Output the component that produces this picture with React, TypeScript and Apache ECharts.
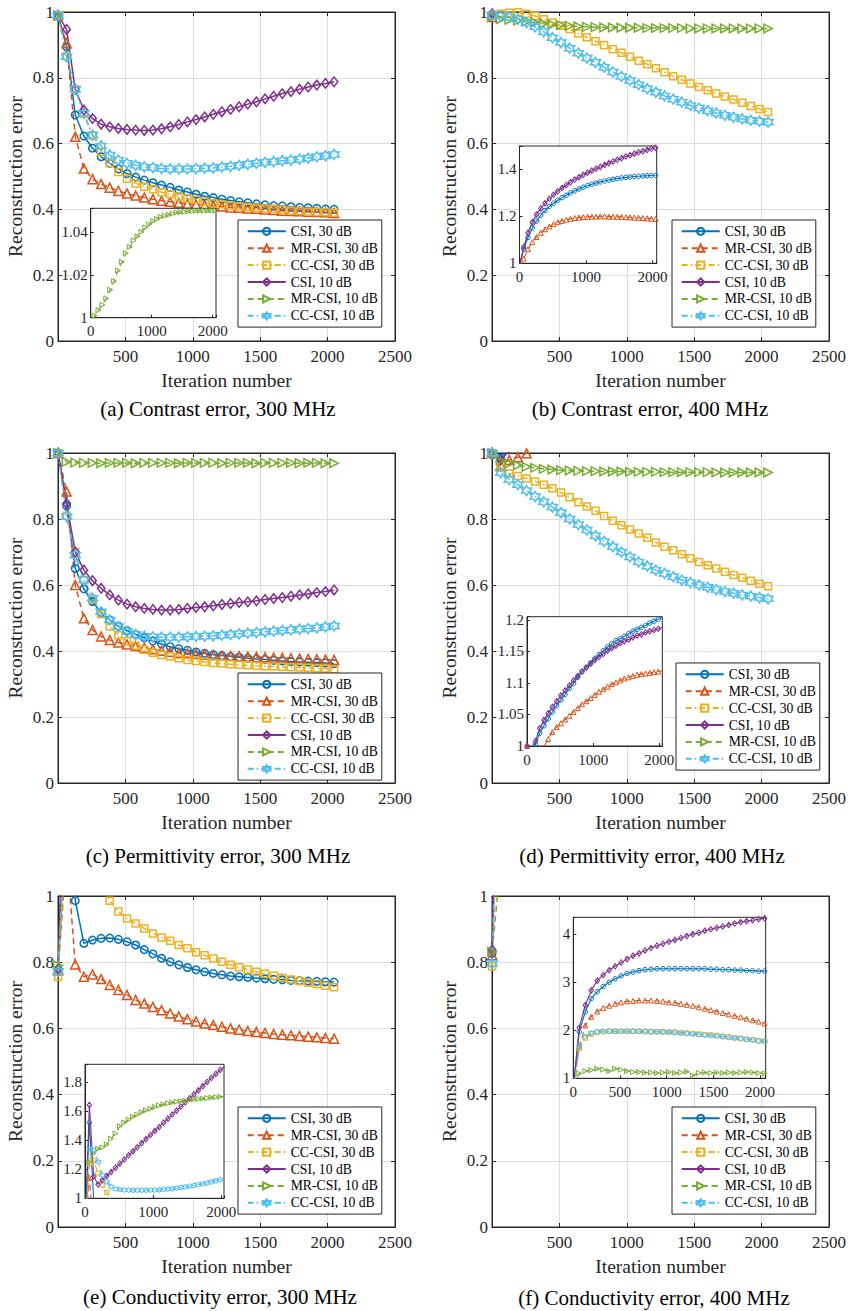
import React, { useEffect, useRef } from "react";
import * as echarts from "echarts";

// ---------------- data ----------------
const ITER = [1, 64, 128, 192, 256, 320, 384, 448, 512, 576, 640, 704, 768, 832, 896, 960, 1024, 1088, 1152, 1216, 1280, 1344, 1408, 1472, 1536, 1600, 1664, 1728, 1792, 1856, 1920, 1984, 2048];

const SERIES_NAMES = ["CSI, 30 dB", "MR-CSI, 30 dB", "CC-CSI, 30 dB", "CSI, 10 dB", "MR-CSI, 10 dB", "CC-CSI, 10 dB"];

const X_TICKS = [0, 500, 1000, 1500, 2000, 2500];
const Y_TICKS = [0, 0.2, 0.4, 0.6, 0.8, 1];

// (a) Contrast error, 300 MHz
const A_CSI30 = [0.99, 0.894, 0.687, 0.623, 0.586, 0.56, 0.54, 0.523, 0.509, 0.498, 0.489, 0.481, 0.474, 0.467, 0.459, 0.453, 0.446, 0.44, 0.436, 0.431, 0.427, 0.423, 0.42, 0.417, 0.414, 0.411, 0.41, 0.408, 0.406, 0.405, 0.403, 0.401, 0.4];
const A_MR30 = [0.99, 0.905, 0.621, 0.524, 0.492, 0.477, 0.466, 0.456, 0.448, 0.442, 0.436, 0.431, 0.426, 0.423, 0.42, 0.417, 0.415, 0.413, 0.411, 0.409, 0.406, 0.405, 0.403, 0.402, 0.4, 0.398, 0.396, 0.395, 0.394, 0.393, 0.392, 0.391, 0.389];
const A_CC30 = [0.99, 0.866, 0.765, 0.69, 0.625, 0.575, 0.54, 0.514, 0.493, 0.479, 0.469, 0.461, 0.452, 0.446, 0.439, 0.433, 0.429, 0.424, 0.419, 0.416, 0.412, 0.409, 0.407, 0.405, 0.403, 0.401, 0.399, 0.397, 0.395, 0.393, 0.392, 0.391, 0.39];
const A_CSI10 = [0.99, 0.947, 0.765, 0.702, 0.676, 0.659, 0.651, 0.646, 0.643, 0.641, 0.64, 0.641, 0.645, 0.651, 0.658, 0.666, 0.673, 0.681, 0.689, 0.697, 0.704, 0.712, 0.72, 0.727, 0.736, 0.744, 0.752, 0.758, 0.765, 0.772, 0.778, 0.783, 0.788];
const A_MR10 = [0.99, 1.001, 1.0035, 1.006, 1.009, 1.013, 1.017, 1.022, 1.026, 1.03, 1.033, 1.036, 1.038, 1.04, 1.042, 1.0435, 1.045, 1.046, 1.047, 1.0475, 1.048, 1.0485, 1.049, 1.0492, 1.0494, 1.0496, 1.0497, 1.0498, 1.0498, 1.0499, 1.0499, 1.0499, 1.0499];
const A_CC10 = [0.99, 0.864, 0.765, 0.692, 0.626, 0.593, 0.565, 0.55, 0.54, 0.534, 0.529, 0.527, 0.524, 0.523, 0.523, 0.523, 0.524, 0.525, 0.526, 0.529, 0.531, 0.534, 0.537, 0.54, 0.543, 0.545, 0.548, 0.55, 0.553, 0.556, 0.56, 0.563, 0.567];

// (b) Contrast error, 400 MHz
const B_CSI30 = [0.99, 1.06, 1.11, 1.15, 1.18, 1.205, 1.225, 1.242, 1.256, 1.269, 1.28, 1.29, 1.3, 1.309, 1.317, 1.324, 1.331, 1.337, 1.342, 1.347, 1.351, 1.355, 1.358, 1.361, 1.364, 1.366, 1.368, 1.37, 1.371, 1.372, 1.373, 1.374, 1.375];
const B_MR30 = [0.985, 1.02, 1.06, 1.09, 1.112, 1.13, 1.145, 1.157, 1.167, 1.175, 1.181, 1.186, 1.19, 1.193, 1.195, 1.197, 1.198, 1.199, 1.199, 1.2, 1.2, 1.199, 1.199, 1.198, 1.198, 1.197, 1.196, 1.195, 1.194, 1.193, 1.192, 1.19, 1.189];
const B_CC30 = [0.99, 0.995, 0.998, 0.999, 0.995, 0.988, 0.978, 0.968, 0.958, 0.948, 0.935, 0.923, 0.911, 0.899, 0.887, 0.876, 0.864, 0.852, 0.841, 0.829, 0.817, 0.805, 0.794, 0.783, 0.772, 0.762, 0.752, 0.743, 0.734, 0.724, 0.714, 0.705, 0.696];
const B_CSI10 = [0.995, 1.07, 1.13, 1.175, 1.208, 1.234, 1.256, 1.275, 1.292, 1.307, 1.321, 1.334, 1.346, 1.357, 1.367, 1.377, 1.386, 1.395, 1.403, 1.411, 1.419, 1.427, 1.434, 1.441, 1.448, 1.455, 1.461, 1.467, 1.473, 1.478, 1.483, 1.488, 1.492];
const B_MR10 = [0.985, 0.978, 0.976, 0.974, 0.971, 0.968, 0.965, 0.962, 0.96, 0.958, 0.956, 0.955, 0.954, 0.953, 0.953, 0.952, 0.952, 0.952, 0.951, 0.951, 0.951, 0.951, 0.951, 0.95, 0.95, 0.95, 0.95, 0.95, 0.95, 0.95, 0.95, 0.95, 0.95];
const B_CC10 = [0.99, 0.988, 0.985, 0.978, 0.968, 0.955, 0.94, 0.922, 0.907, 0.89, 0.875, 0.86, 0.847, 0.832, 0.818, 0.804, 0.792, 0.779, 0.767, 0.756, 0.745, 0.735, 0.726, 0.716, 0.708, 0.7, 0.693, 0.686, 0.68, 0.675, 0.671, 0.668, 0.665];

// (c) Permittivity error, 300 MHz
const C_CSI30 = [1.0, 0.84, 0.65, 0.588, 0.55, 0.516, 0.494, 0.475, 0.462, 0.45, 0.44, 0.43, 0.421, 0.413, 0.407, 0.402, 0.397, 0.393, 0.389, 0.386, 0.383, 0.381, 0.378, 0.376, 0.374, 0.372, 0.37, 0.368, 0.367, 0.366, 0.365, 0.364, 0.362];
const C_MR30 = [1.0, 0.883, 0.6, 0.499, 0.464, 0.444, 0.433, 0.426, 0.42, 0.415, 0.41, 0.405, 0.401, 0.398, 0.395, 0.393, 0.391, 0.389, 0.387, 0.386, 0.385, 0.384, 0.383, 0.382, 0.381, 0.38, 0.379, 0.378, 0.377, 0.376, 0.375, 0.374, 0.373];
const C_CC30 = [1.0, 0.81, 0.7, 0.615, 0.556, 0.512, 0.474, 0.448, 0.43, 0.416, 0.404, 0.395, 0.388, 0.383, 0.378, 0.373, 0.37, 0.367, 0.364, 0.362, 0.36, 0.358, 0.357, 0.355, 0.354, 0.353, 0.352, 0.351, 0.35, 0.349, 0.348, 0.347, 0.345];
const C_CSI10 = [1.0, 0.847, 0.7, 0.645, 0.613, 0.59, 0.57, 0.554, 0.542, 0.534, 0.529, 0.526, 0.524, 0.524, 0.526, 0.529, 0.532, 0.534, 0.537, 0.541, 0.544, 0.547, 0.549, 0.552, 0.556, 0.559, 0.562, 0.566, 0.57, 0.573, 0.577, 0.58, 0.585];
const C_MR10 = [1.0, 0.973, 0.971, 0.97, 0.97, 0.969, 0.97, 0.97, 0.97, 0.969, 0.97, 0.97, 0.97, 0.97, 0.969, 0.97, 0.97, 0.97, 0.97, 0.969, 0.97, 0.97, 0.97, 0.969, 0.97, 0.97, 0.97, 0.97, 0.969, 0.97, 0.97, 0.969, 0.969];
const C_CC10 = [1.0, 0.807, 0.69, 0.615, 0.56, 0.519, 0.494, 0.474, 0.459, 0.45, 0.445, 0.443, 0.442, 0.442, 0.442, 0.443, 0.444, 0.445, 0.446, 0.448, 0.45, 0.452, 0.454, 0.456, 0.458, 0.46, 0.462, 0.464, 0.466, 0.468, 0.47, 0.473, 0.476];

// (d) Permittivity error, 400 MHz
const D_CSI30 = [0.995, 0.985, 1.003, 1.02, 1.032, 1.043, 1.054, 1.064, 1.073, 1.082, 1.091, 1.099, 1.109, 1.118, 1.125, 1.132, 1.139, 1.145, 1.151, 1.157, 1.162, 1.167, 1.17, 1.174, 1.178, 1.182, 1.185, 1.188, 1.191, 1.195, 1.198, 1.201, 1.204];
const D_MR30 = [1.0, 0.964, 0.979, 0.987, 0.999, 1.011, 1.022, 1.03, 1.036, 1.042, 1.048, 1.054, 1.06, 1.066, 1.071, 1.076, 1.081, 1.086, 1.09, 1.094, 1.098, 1.101, 1.104, 1.107, 1.109, 1.111, 1.113, 1.114, 1.115, 1.116, 1.117, 1.118, 1.119];
const D_CC30 = [1.0, 0.955, 0.938, 0.93, 0.923, 0.914, 0.904, 0.893, 0.88, 0.866, 0.851, 0.838, 0.825, 0.809, 0.795, 0.781, 0.768, 0.756, 0.743, 0.729, 0.716, 0.705, 0.693, 0.681, 0.67, 0.66, 0.65, 0.64, 0.63, 0.622, 0.613, 0.604, 0.596];
const D_CSI10 = [1.0, 0.979, 1.008, 1.028, 1.041, 1.052, 1.062, 1.071, 1.08, 1.088, 1.096, 1.104, 1.111, 1.118, 1.124, 1.13, 1.136, 1.141, 1.146, 1.151, 1.155, 1.159, 1.163, 1.166, 1.169, 1.172, 1.175, 1.177, 1.18, 1.182, 1.184, 1.186, 1.188];
const D_MR10 = [1.0, 0.977, 0.968, 0.963, 0.958, 0.955, 0.952, 0.95, 0.948, 0.947, 0.946, 0.945, 0.945, 0.944, 0.944, 0.944, 0.943, 0.943, 0.943, 0.943, 0.942, 0.942, 0.942, 0.942, 0.942, 0.942, 0.941, 0.941, 0.941, 0.941, 0.941, 0.941, 0.941];
const D_CC10 = [1.0, 0.94, 0.92, 0.904, 0.886, 0.868, 0.852, 0.836, 0.819, 0.8, 0.783, 0.767, 0.749, 0.732, 0.716, 0.7, 0.685, 0.67, 0.657, 0.645, 0.635, 0.625, 0.615, 0.607, 0.6, 0.593, 0.586, 0.58, 0.575, 0.57, 0.566, 0.562, 0.558];

// (e) Conductivity error, 300 MHz
const E_CSI30 = [0.775, 1.52, 0.986, 0.857, 0.867, 0.872, 0.873, 0.869, 0.862, 0.852, 0.838, 0.825, 0.812, 0.801, 0.792, 0.784, 0.777, 0.771, 0.766, 0.762, 0.758, 0.756, 0.754, 0.752, 0.75, 0.748, 0.747, 0.745, 0.744, 0.743, 0.742, 0.741, 0.74];
const E_MR30 = [0.775, 1.14, 0.793, 0.756, 0.763, 0.749, 0.731, 0.716, 0.701, 0.686, 0.675, 0.665, 0.655, 0.645, 0.636, 0.628, 0.621, 0.615, 0.61, 0.605, 0.6, 0.596, 0.592, 0.589, 0.586, 0.583, 0.581, 0.579, 0.577, 0.575, 0.573, 0.571, 0.569];
const E_CC30 = [0.756, 1.24, 1.26, 1.17, 1.09, 1.04, 0.986, 0.953, 0.932, 0.917, 0.902, 0.887, 0.875, 0.865, 0.852, 0.842, 0.83, 0.821, 0.811, 0.801, 0.792, 0.785, 0.778, 0.771, 0.765, 0.759, 0.753, 0.748, 0.743, 0.738, 0.734, 0.729, 0.724];
const E_CSI10 = [0.78, 1.64, 1.15, 1.095, 1.125, 1.153, 1.18, 1.21, 1.238, 1.266, 1.295, 1.323, 1.35, 1.379, 1.407, 1.435, 1.462, 1.49, 1.519, 1.547, 1.575, 1.602, 1.63, 1.659, 1.687, 1.714, 1.742, 1.77, 1.799, 1.827, 1.854, 1.881, 1.905];
const E_MR10 = [0.79, 1.25, 1.31, 1.34, 1.35, 1.37, 1.41, 1.445, 1.495, 1.52, 1.54, 1.56, 1.575, 1.59, 1.605, 1.615, 1.627, 1.637, 1.645, 1.652, 1.658, 1.663, 1.667, 1.671, 1.675, 1.679, 1.682, 1.685, 1.688, 1.691, 1.694, 1.697, 1.7];
const E_CC10 = [0.772, 1.34, 1.33, 1.25, 1.16, 1.113, 1.08, 1.065, 1.06, 1.057, 1.056, 1.055, 1.055, 1.055, 1.055, 1.056, 1.057, 1.058, 1.06, 1.063, 1.066, 1.07, 1.074, 1.078, 1.083, 1.088, 1.094, 1.1, 1.106, 1.113, 1.12, 1.128, 1.136];

// (f) Conductivity error, 400 MHz
const F_CSI30 = [0.827, 1.97, 2.38, 2.66, 2.8, 2.91, 3.0, 3.07, 3.13, 3.18, 3.21, 3.24, 3.26, 3.27, 3.28, 3.28, 3.28, 3.28, 3.28, 3.28, 3.28, 3.28, 3.28, 3.27, 3.27, 3.26, 3.26, 3.25, 3.25, 3.24, 3.24, 3.23, 3.23];
const F_MR30 = [0.822, 1.66, 2.1, 2.28, 2.39, 2.46, 2.51, 2.55, 2.58, 2.6, 2.61, 2.62, 2.62, 2.62, 2.61, 2.6, 2.58, 2.57, 2.55, 2.53, 2.51, 2.48, 2.45, 2.42, 2.39, 2.36, 2.33, 2.3, 2.27, 2.24, 2.21, 2.18, 2.14];
const F_CC30 = [0.788, 1.62, 1.84, 1.92, 1.96, 1.97, 1.98, 1.98, 1.98, 1.98, 1.98, 1.98, 1.97, 1.97, 1.97, 1.97, 1.96, 1.96, 1.95, 1.94, 1.93, 1.92, 1.91, 1.9, 1.89, 1.87, 1.86, 1.84, 1.83, 1.81, 1.8, 1.78, 1.77];
const F_CSI10 = [0.837, 2.05, 2.52, 2.83, 3.03, 3.15, 3.25, 3.33, 3.41, 3.48, 3.55, 3.6, 3.66, 3.71, 3.76, 3.8, 3.84, 3.88, 3.92, 3.96, 4.0, 4.03, 4.07, 4.1, 4.13, 4.16, 4.19, 4.22, 4.25, 4.27, 4.29, 4.31, 4.33];
const F_MR10 = [0.832, 1.1, 1.15, 1.17, 1.2, 1.18, 1.15, 1.2, 1.18, 1.15, 1.13, 1.13, 1.12, 1.12, 1.11, 1.12, 1.13, 1.11, 1.12, 1.14, 1.06, 1.11, 1.12, 1.11, 1.12, 1.11, 1.12, 1.11, 1.12, 1.13, 1.12, 1.11, 1.1];
const F_CC10 = [0.796, 1.66, 1.87, 1.94, 1.97, 1.98, 1.98, 1.98, 1.98, 1.98, 1.98, 1.98, 1.98, 1.97, 1.97, 1.96, 1.96, 1.95, 1.94, 1.93, 1.92, 1.91, 1.9, 1.89, 1.88, 1.87, 1.85, 1.84, 1.83, 1.81, 1.8, 1.78, 1.77];

const CAPTIONS = [
  "(a) Contrast error, 300 MHz",
  "(b) Contrast error, 400 MHz",
  "(c) Permittivity error, 300 MHz",
  "(d) Permittivity error, 400 MHz",
  "(e) Conductivity error, 300 MHz",
  "(f) Conductivity error, 400 MHz",
];

// ---------------- styles ----------------
const COLORS = ["#0072BD", "#D95319", "#EDB120", "#7E2F8E", "#77AC30", "#4DBEEE"];
const LINE_TYPES: any[] = ["solid", [6, 4], [6, 3, 1.5, 3], "solid", [6, 4], [6, 3, 1.5, 3]];
const RIGHT_TRI = "path://M0,0L17.32,10L0,20Z";
const HEXAGRAM = "path://M10,0L12.885,5L18.66,5L15.77,10L18.66,15L12.885,15L10,20L7.115,15L1.34,15L4.23,10L1.34,5L7.115,5Z";
const SYMBOLS = ["circle", "triangle", "rect", "diamond", RIGHT_TRI, HEXAGRAM];
const MAIN_SIZES: any[] = [7.5, 9, 7, [7.5, 9.5], 8.5, 10];
const INSET_SIZES: any[] = [4.5, 5, 4.5, [4.5, 5.5], 5, 5.5];
const FONT = "Liberation Serif";
const AX = "#262626";

type Inset = { box: number[]; xMax: number; xInt: number; yMax: number; yInt: number; dec: number; idx: number[] };
type Panel = { grid: number[]; legend: number[]; cap: number[]; data: number[][]; inset?: Inset };

const PANELS: Panel[] = [
  { grid: [58, 12, 337, 329], legend: [238, 220], cap: [218, 409], data: [A_CSI30, A_MR30, A_CC30, A_CSI10, A_MR10, A_CC10],
    inset: { box: [90.7, 208.3, 125.3, 109.4], xMax: 2054, xInt: 1000, yMax: 1.051, yInt: 0.02, dec: 2, idx: [4] } },
  { grid: [492, 12, 337, 329], legend: [672, 220], cap: [650, 409], data: [B_CSI30, B_MR30, B_CC30, B_CSI10, B_MR10, B_CC10],
    inset: { box: [519.5, 146, 137.2, 117.3], xMax: 2065, xInt: 1000, yMax: 1.5, yInt: 0.2, dec: 1, idx: [0, 1, 3] } },
  { grid: [58, 453, 337, 330], legend: [238, 673], cap: [218, 856], data: [C_CSI30, C_MR30, C_CC30, C_CSI10, C_MR10, C_CC10] },
  { grid: [492, 453, 337, 330], legend: [676, 663], cap: [652, 856], data: [D_CSI30, D_MR30, D_CC30, D_CSI10, D_MR10, D_CC10],
    inset: { box: [527, 616.7, 135.3, 129.3], xMax: 2045, xInt: 1000, yMax: 1.205, yInt: 0.05, dec: 2, idx: [0, 1, 3] } },
  { grid: [58, 896, 337, 331], legend: [238, 1107], cap: [220, 1297], data: [E_CSI30, E_MR30, E_CC30, E_CSI10, E_MR10, E_CC10],
    inset: { box: [85, 1064.3, 139, 134], xMax: 2040, xInt: 1000, yMax: 1.92, yInt: 0.2, dec: 1, idx: [0, 1, 2, 3, 4, 5] } },
  { grid: [492, 896, 337, 331], legend: [672, 1107], cap: [654, 1298], data: [F_CSI30, F_MR30, F_CC30, F_CSI10, F_MR10, F_CC10],
    inset: { box: [573.3, 917.3, 192.4, 161], xMax: 2060, xInt: 500, yMax: 4.35, yInt: 1, dec: 0, idx: [0, 1, 2, 3, 4, 5] } },
];

function onMultiple(v: number, base: number, step: number) {
  const k = Math.round((v - base) / step);
  return Math.abs(v - (base + k * step)) < step * 1e-4;
}

function buildOption() {
  const grid: any[] = [];
  const xAxis: any[] = [];
  const yAxis: any[] = [];
  const series: any[] = [];
  const legend: any[] = [];
  const graphic: any[] = [];

  const tickLabel = { color: AX, fontFamily: FONT, fontSize: 17 };
  const nameStyle = { color: AX, fontFamily: FONT, fontSize: 19.5 };

  PANELS.forEach((p, pi) => {
    const gi = grid.length;
    grid.push({ left: p.grid[0], top: p.grid[1], width: p.grid[2], height: p.grid[3], show: true, borderColor: AX, borderWidth: 1, backgroundColor: "transparent" });
    const xi = xAxis.length;
    xAxis.push({
      gridIndex: gi, type: "value", position: "bottom", min: X_TICKS[0], max: X_TICKS[X_TICKS.length - 1], interval: X_TICKS[1] - X_TICKS[0],
      axisLine: { show: true, onZero: false, lineStyle: { color: AX, width: 1 } },
      axisTick: { show: true, inside: true, length: 4, lineStyle: { color: AX } },
      axisLabel: { ...tickLabel, margin: 7, formatter: (v: number) => (v === 0 ? "" : String(v)) },
      splitLine: { show: true, lineStyle: { color: "#dedede", width: 1 } },
      name: "Iteration number", nameLocation: "middle", nameGap: 29, nameTextStyle: nameStyle,
    });
    xAxis.push({
      gridIndex: gi, type: "value", position: "top", min: X_TICKS[0], max: X_TICKS[X_TICKS.length - 1], interval: X_TICKS[1] - X_TICKS[0],
      axisLine: { show: true, onZero: false, lineStyle: { color: AX, width: 1 } },
      axisTick: { show: true, inside: true, length: 4, lineStyle: { color: AX } },
      axisLabel: { show: false }, splitLine: { show: false },
    });
    const yi = yAxis.length;
    yAxis.push({
      gridIndex: gi, type: "value", position: "left", min: Y_TICKS[0], max: Y_TICKS[Y_TICKS.length - 1], interval: Y_TICKS[1] - Y_TICKS[0],
      axisLine: { show: true, onZero: false, lineStyle: { color: AX, width: 1 } },
      axisTick: { show: true, inside: true, length: 4, lineStyle: { color: AX } },
      axisLabel: { ...tickLabel, margin: 4, formatter: (v: number) => String(Math.round(v * 10) / 10) },
      splitLine: { show: true, lineStyle: { color: "#dedede", width: 1 } },
      name: "Reconstruction error", nameLocation: "middle", nameGap: 33, nameTextStyle: nameStyle,
    });
    yAxis.push({
      gridIndex: gi, type: "value", position: "right", min: Y_TICKS[0], max: Y_TICKS[Y_TICKS.length - 1], interval: Y_TICKS[1] - Y_TICKS[0],
      axisLine: { show: true, onZero: false, lineStyle: { color: AX, width: 1 } },
      axisTick: { show: true, inside: true, length: 4, lineStyle: { color: AX } },
      axisLabel: { show: false }, splitLine: { show: false },
    });

    p.data.forEach((vals, k) => {
      series.push({
        type: "line", name: SERIES_NAMES[k], xAxisIndex: xi, yAxisIndex: yi,
        data: ITER.map((x, i) => [x, vals[i]]),
        symbol: SYMBOLS[k], symbolSize: MAIN_SIZES[k], showSymbol: true,
        lineStyle: { color: COLORS[k], width: 1.5, type: LINE_TYPES[k] },
        itemStyle: { color: "rgba(255,255,255,0)", borderColor: COLORS[k], borderWidth: 1.5 },
        clip: true, z: 2, silent: true, emphasis: { disabled: true },
      });
    });

    if (p.inset) {
      const ins = p.inset;
      const igi = grid.length;
      grid.push({ left: ins.box[0], top: ins.box[1], width: ins.box[2], height: ins.box[3], show: true, borderColor: AX, borderWidth: 1, backgroundColor: "#ffffff", z: 3 });
      const ixi = xAxis.length;
      xAxis.push({
        gridIndex: igi, type: "value", position: "bottom", min: 0, max: ins.xMax, interval: ins.xInt, z: 4,
        axisLine: { show: true, onZero: false, lineStyle: { color: AX, width: 1 } },
        axisTick: { show: true, inside: true, length: 3, lineStyle: { color: AX } },
        axisLabel: { color: AX, fontFamily: FONT, fontSize: 15, margin: 6, formatter: (v: number) => (onMultiple(v, 0, ins.xInt) ? String(Math.round(v)) : "") },
        splitLine: { show: false },
      });
      const iyi = yAxis.length;
      yAxis.push({
        gridIndex: igi, type: "value", position: "left", min: 1, max: ins.yMax, interval: ins.yInt, z: 4,
        axisLine: { show: true, onZero: false, lineStyle: { color: AX, width: 1 } },
        axisTick: { show: true, inside: true, length: 3, lineStyle: { color: AX } },
        axisLabel: { color: AX, fontFamily: FONT, fontSize: 15, margin: 3, formatter: (v: number) => (onMultiple(v, 1, ins.yInt) ? String(Number(v.toFixed(ins.dec))) : "") },
        splitLine: { show: false },
      });
      ins.idx.forEach((k) => {
        const vals = p.data[k];
        series.push({
          type: "line", name: SERIES_NAMES[k], xAxisIndex: ixi, yAxisIndex: iyi,
          data: ITER.map((x, i) => [x, vals[i]]),
          symbol: SYMBOLS[k], symbolSize: INSET_SIZES[k], showSymbol: true,
          lineStyle: { color: COLORS[k], width: 1.1, type: LINE_TYPES[k] },
          itemStyle: { color: "rgba(255,255,255,0)", borderColor: COLORS[k], borderWidth: 1 },
          clip: true, z: 5, silent: true, emphasis: { disabled: true },
        });
      });
    }

    legend.push({
      data: SERIES_NAMES, left: p.legend[0], top: p.legend[1], orient: "vertical",
      itemWidth: 38, itemHeight: 9, itemGap: 2.9, padding: [4.3, 4, 4.3, 8.7],
      backgroundColor: "#ffffff", borderColor: AX, borderWidth: 1, borderRadius: 0,
      selectedMode: false, z: 6,
      textStyle: { fontFamily: FONT, fontSize: 13.7, color: "#000", lineHeight: 14 },
    });

    graphic.push({
      type: "text", x: p.cap[0], y: p.cap[1], silent: true,
      style: { text: CAPTIONS[pi], fill: "#000", fontFamily: FONT, fontSize: 21, align: "center", verticalAlign: "middle" },
    });
  });

  return { animation: false, backgroundColor: "#ffffff", grid, xAxis, yAxis, series, legend, graphic, tooltip: { show: false } };
}

export default function App() {
  const ref = useRef<HTMLDivElement>(null);
  useEffect(() => {
    const chart = echarts.init(ref.current as HTMLDivElement, null, { renderer: "svg" });
    chart.setOption(buildOption() as any);
    return () => chart.dispose();
  }, []);
  return <div ref={ref} style={{ position: "absolute", left: 0, top: 0, width: 850, height: 1311, background: "#fff" }} />;
}
